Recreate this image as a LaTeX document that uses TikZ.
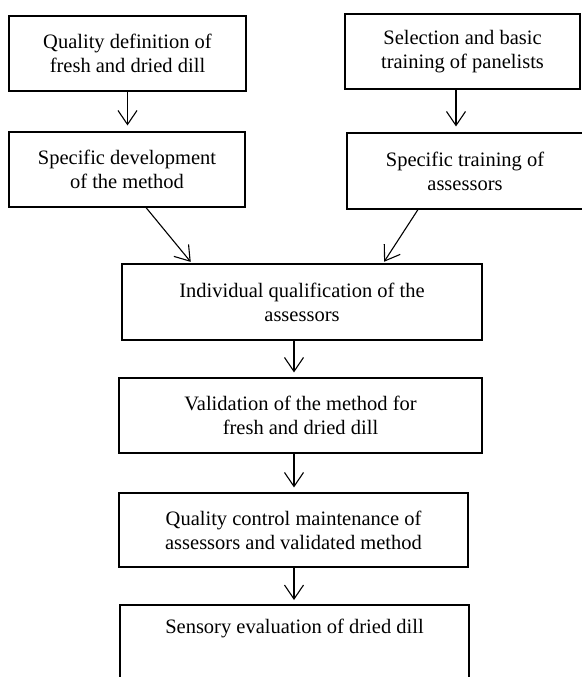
\documentclass[tikz,border=0pt]{standalone}
\usepackage{fontspec}
\setmainfont{Liberation Serif}
\usetikzlibrary{arrows.meta,calc}
\begin{document}
\begin{tikzpicture}[x=1pt,y=-1pt,
  box/.style={draw,line width=1.1pt,rectangle,inner sep=0pt,align=center,
    font=\fontsize{20.5}{24}\selectfont},
  arr/.style={line width=1.1pt,-{Straight Barb[length=14pt,width=19pt,line width=1.1pt]},shorten >=1pt}]
\useasboundingbox (0,0) rectangle (581,677);
\node[box,minimum width=237pt,minimum height=75pt] (b1) at (127.5,53.5) {Quality definition of\\fresh and dried dill};
\node[box,minimum width=235pt,minimum height=75pt] (b2) at (462.5,51.5) {Selection and basic\\training of panelists};
\node[box,minimum width=236pt,minimum height=75pt] (b3) at (127,169.5) {Specific development\\of the method};
\node[box,minimum width=236pt,minimum height=76pt] (b4) at (465,171) {Specific training of\\assessors};
\node[box,minimum width=360pt,minimum height=76pt] (b5) at (302,302) {Individual qualification of the\\assessors};
\node[box,minimum width=363pt,minimum height=75pt] (b6) at (300.5,415.5) {Validation of the method for\\fresh and dried dill};
\node[box,minimum width=349pt,minimum height=74pt] (b7) at (293.5,530) {Quality control maintenance of\\assessors and validated method};
\node[draw=none,inner sep=0pt,font=\fontsize{20.5}{24}\selectfont,anchor=north] (b8) at (294.5,619) {Sensory evaluation of dried dill};
\draw[line width=1.1pt] (120,700) -- (120,605) coordinate (b8nw) -- (469,605) coordinate (b8ne) -- (469,700);
\coordinate (b8top) at ($(b8nw)!0.5!(b8ne)$);
\draw[arr,shorten >=6pt] (b1.south) -- (b3.north -| b1.south);
\draw[arr,shorten >=6pt] ($(b2.south)+(-6.5,0)$) -- ($(b4.north)+(-9,0)$);
\draw[arr,shorten >=2pt] ($(b3.south)+(19,0)$) -- ($(b5.north)+(-110,0)$);
\draw[arr,shorten >=2pt] ($(b4.south)+(-47,0)$) -- ($(b5.north)+(81,0)$);
\draw[arr,shorten >=5pt] (b5.south -| 294,0) -- (b6.north -| 294,0);
\draw[arr,shorten >=5pt] (b6.south -| 294,0) -- (b7.north -| 294,0);
\draw[arr,shorten >=5pt] (b7.south -| 294,0) -- (b8top -| 294,0);
\end{tikzpicture}
\end{document}
